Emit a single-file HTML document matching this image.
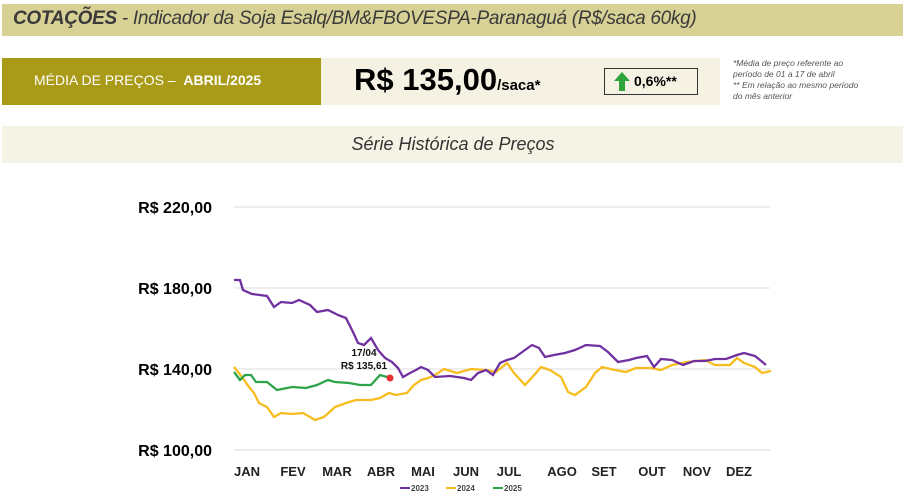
<!DOCTYPE html><html><head><meta charset="utf-8"><style>
body{margin:0;width:906px;height:500px;background:#fff;font-family:"Liberation Sans",sans-serif;position:relative;overflow:hidden}
.a{position:absolute}
</style></head><body>
<div class="a" style="left:2px;top:4px;width:901px;height:32px;background:#d8d196"></div>
<div class="a" style="left:13px;top:8px;font-size:19px;color:#3a3a3a;font-style:italic;white-space:nowrap;letter-spacing:-0.3px"><b>COTAÇÕES</b> - Indicador da Soja Esalq/BM&amp;FBOVESPA-Paranaguá (R$/saca 60kg)</div>
<div class="a" style="left:2px;top:58px;width:319px;height:47px;background:#a99a18"></div>
<div class="a" style="left:34px;top:72px;font-size:14px;color:#fff;white-space:nowrap">MÉDIA DE PREÇOS – &nbsp;<b>ABRIL/2025</b></div>
<div class="a" style="left:321px;top:58px;width:399px;height:47px;background:#f5f2e4"></div>
<div class="a" style="left:354px;top:62px;font-size:31px;font-weight:bold;color:#000;white-space:nowrap">R$ 135,00<span style="font-size:15px">/saca*</span></div>
<div class="a" style="left:604px;top:68px;width:94px;height:27px;border:1px solid #333;box-sizing:border-box;background:#f5f2e4"></div>
<svg class="a" style="left:614px;top:72px" width="16" height="19"><polygon points="8,0 16,9 11,9 11,19 5,19 5,9 0,9" fill="#2ea43a"/></svg>
<div class="a" style="left:634px;top:73px;font-size:14px;font-weight:bold">0,6%**</div>
<div class="a" style="left:733px;top:58px;font-size:8.5px;font-style:italic;color:#555;line-height:11px">*Média de preço referente ao<br>período de 01 a 17 de abril<br>** Em relação ao mesmo período<br>do mês anterior</div>
<div class="a" style="left:2px;top:126px;width:901px;height:37px;background:#f5f3e5"></div>
<div class="a" style="left:0;width:906px;top:134px;text-align:center;font-size:18px;font-style:italic;color:#333">Série Histórica de Preços</div>
<svg class="a" style="left:0;top:0" width="906" height="500">
<g stroke="#dcdcdc" stroke-width="1"><line x1="234" y1="207" x2="770" y2="207"/><line x1="234" y1="288" x2="770" y2="288"/><line x1="234" y1="369" x2="770" y2="369"/><line x1="234" y1="450" x2="770" y2="450"/></g>
<g font-size="16" font-weight="bold" fill="#000" text-anchor="end"><text x="212" y="213">R$ 220,00</text><text x="212" y="294">R$ 180,00</text><text x="212" y="375">R$ 140,00</text><text x="212" y="456">R$ 100,00</text></g>
<g font-size="13" font-weight="bold" fill="#222" text-anchor="middle"><text x="247" y="476">JAN</text><text x="293" y="476">FEV</text><text x="337" y="476">MAR</text><text x="381" y="476">ABR</text><text x="423" y="476">MAI</text><text x="466" y="476">JUN</text><text x="509" y="476">JUL</text><text x="562" y="476">AGO</text><text x="604" y="476">SET</text><text x="652" y="476">OUT</text><text x="697" y="476">NOV</text><text x="739" y="476">DEZ</text></g>
<polyline fill="none" stroke="#f7bd1e" stroke-width="2.3" points="234,367 242,377 249,387 254,393 259,403 267,407 274,417 281,413 292,414 303,413 310,417 315,420 324,417 335,407 346,403 356,400 371,400 380,398 389,393 396,395 407,393 414,385 421,380 428,378 435,375 444,369 457,373 471,369 486,370 496,372 507,363 514,373 525,385 536,373 541,367 550,370 561,377 568,392 575,395 586,387 595,373 602,367 615,370 626,372 636,368 651,368 661,370 672,365 687,362 705,360 715,365 730,365 737,358 744,363 755,367 762,373 771,371"/>
<polyline fill="none" stroke="#7030a0" stroke-width="2.3" points="234,280 240,280 243,290 252,294 267,296 274,307 281,302 292,303 299,300 310,305 317,312 328,310 338,315 346,318 353,332 358,343 364,345 371,338 378,350 385,358 392,362 398,368 403,377 410,373 416,370 421,367 428,370 435,377 450,376 464,378 471,380 478,373 486,370 493,375 500,363 507,360 514,358 525,350 532,345 539,348 545,357 554,355 565,353 575,350 586,345 600,346 608,352 618,362 629,360 636,358 647,356 654,367 661,359 672,360 683,365 694,361 705,361 715,359 726,359 737,355 744,353 755,356 760,360 766,365"/>
<polyline fill="none" stroke="#2ea44a" stroke-width="2.3" points="234,372 240,380 245,375 251,375 256,382 267,382 277,390 292,387 306,388 317,385 328,380 335,382 349,383 360,385 371,385 380,375 387,377"/>
<circle cx="390" cy="378" r="3.5" fill="#e83030"/>
<g font-size="10" font-weight="bold" fill="#111" text-anchor="middle"><text x="364" y="356">17/04</text><text x="364" y="369">R$ 135,61</text></g>
<g font-size="8" font-weight="bold" fill="#444"><line x1="400" y1="488" x2="410" y2="488" stroke="#7030a0" stroke-width="2"/><text x="411" y="491">2023</text><line x1="446" y1="488" x2="456" y2="488" stroke="#f7bd1e" stroke-width="2"/><text x="457" y="491">2024</text><line x1="493" y1="488" x2="503" y2="488" stroke="#2ea44a" stroke-width="2"/><text x="504" y="491">2025</text></g>
</svg>
</body></html>
